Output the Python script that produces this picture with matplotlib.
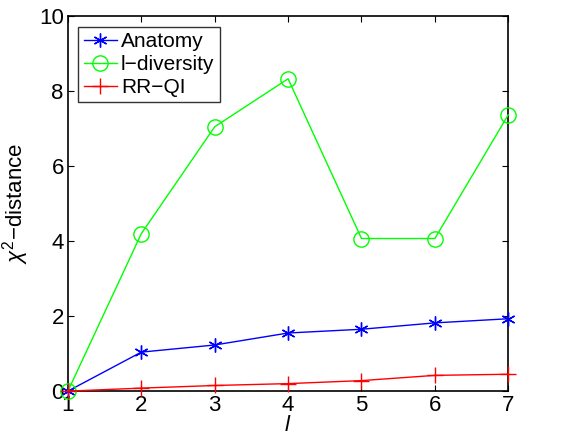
import matplotlib.pyplot as plt

plt.rcParams['font.family'] = ['Liberation Sans', 'DejaVu Sans']
plt.rcParams['mathtext.fontset'] = 'custom'
plt.rcParams['mathtext.rm'] = 'Liberation Sans'
plt.rcParams['mathtext.it'] = 'Liberation Sans:italic'

l_values = [1, 2, 3, 4, 5, 6, 7]
anatomy = [0, 1.04, 1.23, 1.55, 1.65, 1.82, 1.93]
l_diversity = [0, 4.2, 7.05, 8.33, 4.07, 4.07, 7.37]
rr_qi = [0, 0.08, 0.15, 0.2, 0.28, 0.42, 0.45]

fig = plt.figure(figsize=(5.66, 4.37), dpi=100)
ax = fig.add_axes([0.120, 0.105, 0.778, 0.858])

asterisk = (6, 2, 0)
ax.plot(l_values, anatomy, color='blue', marker=asterisk, markersize=10, lw=1,
        mew=1, label='Anatomy', clip_on=False, zorder=3)
ax.plot(l_values, l_diversity, color='#00ff00', marker='o', markersize=11, lw=1,
        markerfacecolor='none', label='l\u2212diversity', clip_on=False, zorder=3)
ax.plot(l_values, rr_qi, color='red', marker='+', markersize=12, lw=1,
        label='RR\u2212QI', clip_on=False, zorder=3)

ax.set_xlim(1, 7)
ax.set_ylim(0, 10)
ax.set_xticks(l_values)
ax.set_yticks([0, 2, 4, 6, 8, 10])
ax.tick_params(direction='in', labelsize=16, top=True, right=True, length=4, pad=3)
for s in ax.spines.values():
    s.set_linewidth(1.2)

ax.set_xlabel('$l$', fontsize=16, labelpad=-1)
ax.set_ylabel('$\\chi^2$\u2212distance', fontsize=16, labelpad=6)

leg = ax.legend(loc='upper left', fontsize=15, fancybox=False, edgecolor='black',
                handlelength=1.6, borderpad=0.25, labelspacing=0.2,
                handletextpad=0.2, borderaxespad=0.5)
leg.get_frame().set_linewidth(1)

fig.savefig('out.png', dpi=100)
